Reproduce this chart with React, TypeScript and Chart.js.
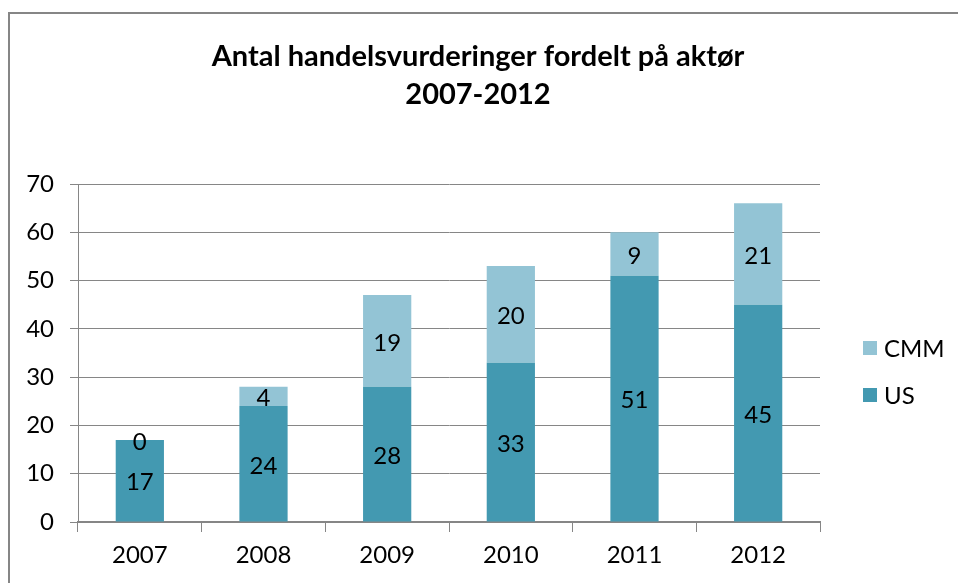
import React, { useEffect, useRef } from "react";
import { Chart, registerables } from "chart.js";

Chart.register(...registerables);

const categories = ["2007", "2008", "2009", "2010", "2011", "2012"];
const usValues = [17, 24, 28, 33, 51, 45];
const cmmValues = [0, 4, 19, 20, 9, 21];
const titleLines = ["Antal handelsvurderinger fordelt på aktør", "2007-2012"];
const legendItems = [
  { label: "CMM", color: "#93C4D5" },
  { label: "US", color: "#4399B1" },
];

const FONT = "Lato, 'Open Sans', sans-serif";

const decorPlugin = {
  id: "decor",
  beforeDraw(chart: any) {
    const ctx = chart.ctx;
    ctx.save();
    ctx.fillStyle = "#ffffff";
    ctx.fillRect(0, 0, chart.width, chart.height);
    ctx.strokeStyle = "#868686";
    ctx.lineWidth = 2;
    ctx.beginPath();
    ctx.moveTo(9, chart.height + 5);
    ctx.lineTo(9, 13);
    ctx.lineTo(chart.width + 5, 13);
    ctx.stroke();
    ctx.restore();
  },
  afterDraw(chart: any) {
    const ctx = chart.ctx;
    ctx.save();
    // title
    ctx.fillStyle = "#000000";
    ctx.textAlign = "center";
    ctx.textBaseline = "alphabetic";
    ctx.font = `bold 29px ${FONT}`;
    ctx.fillText(titleLines[0], 478, 66);
    ctx.fillText(titleLines[1], 478, 104);
    // data labels
    ctx.font = `24px ${FONT}`;
    ctx.textBaseline = "middle";
    chart.data.datasets.forEach((ds: any, di: number) => {
      const meta = chart.getDatasetMeta(di);
      meta.data.forEach((bar: any, i: number) => {
        const v = ds.data[i];
        const cy = (bar.y + bar.base) / 2;
        ctx.fillText(String(v), bar.x, cy + 2);
      });
    });
    // legend
    ctx.textAlign = "left";
    legendItems.forEach((item, i) => {
      const cy = 348 + i * 47;
      ctx.fillStyle = item.color;
      ctx.fillRect(863, cy - 7, 14, 14);
      ctx.fillStyle = "#000000";
      ctx.fillText(item.label, 884, cy + 1);
    });
    ctx.restore();
  },
};

export default function App() {
  const ref = useRef<HTMLCanvasElement>(null);
  useEffect(() => {
    document.body.style.margin = "0";
    const chart = new Chart(ref.current!, {
      type: "bar",
      data: {
        labels: categories,
        datasets: [
          {
            label: "US",
            data: usValues,
            backgroundColor: "#4399B1",
            barPercentage: 0.39,
            categoryPercentage: 1,
          },
          {
            label: "CMM",
            data: cmmValues,
            backgroundColor: "#93C4D5",
            barPercentage: 0.39,
            categoryPercentage: 1,
          },
        ],
      },
      options: {
        animation: false,
        responsive: false,
        devicePixelRatio: 1,
        layout: { padding: { left: 0, right: 138, top: 184, bottom: 0 } },
        plugins: {
          legend: { display: false },
          title: { display: false },
          tooltip: { enabled: false },
        },
        scales: {
          x: {
            stacked: true,
            afterFit: (s: any) => {
              s.height = 61;
            },
            grid: {
              offset: true,
              drawOnChartArea: false,
              drawTicks: true,
              tickLength: 10,
              color: "#868686",
              lineWidth: 1,
            },
            border: { display: true, color: "#868686", width: 2 },
            ticks: {
              color: "#000000",
              font: { family: FONT, size: 24 },
              padding: 9,
            },
          },
          y: {
            stacked: true,
            min: 0,
            max: 70,
            afterFit: (s: any) => {
              s.width = 78;
            },
            grid: {
              color: "#868686",
              lineWidth: 1,
              tickLength: 8,
            },
            border: { display: true, color: "#868686", width: 1 },
            ticks: {
              stepSize: 10,
              color: "#000000",
              font: { family: FONT, size: 24 },
              padding: 16,
            },
          },
        },
      },
      plugins: [decorPlugin],
    });
    return () => chart.destroy();
  }, []);
  return <canvas ref={ref} width={958} height={583} style={{ display: "block" }} />;
}
